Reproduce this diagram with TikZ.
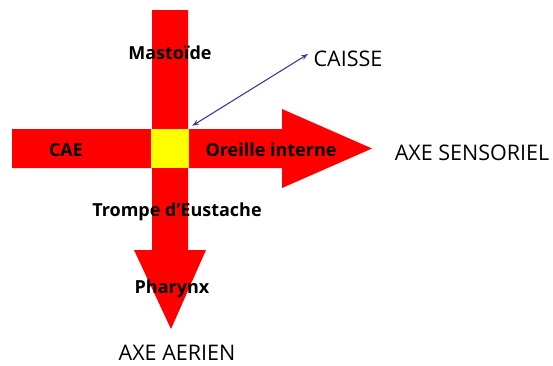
\documentclass[tikz,border=0pt]{standalone}
\usepackage{fontspec}
\setmainfont{Open Sans}
\usetikzlibrary{arrows.meta}
\definecolor{axered}{RGB}{255,0,0}
\definecolor{caisseyel}{RGB}{255,255,0}
\definecolor{fleche}{RGB}{60,60,160}
\tikzset{
  partie/.style={font=\fontsize{18}{20}\selectfont\bfseries, text=black},
  axe/.style={font=\fontsize{21.5}{24}\selectfont, text=black},
}
\begin{document}
\begin{tikzpicture}[x=1pt, y=-1pt, >={Stealth[length=7pt,width=5pt]}]
    \useasboundingbox (0,0) rectangle (553,365);
    % axe sensoriel (horizontal)
    \fill[axered] (12,129) -- (282,129) -- (282,109) -- (372,148.5) -- (282,188) -- (282,168) -- (12,168) -- cycle;
    % axe aerien (vertical)
    \fill[axered] (152,10) -- (188,10) -- (188,250) -- (206,250) -- (171,329) -- (134,250) -- (152,250) -- cycle;
    % caisse
    \node[fill=caisseyel, minimum width=38pt, minimum height=39pt, inner sep=0pt] (carre) at (170,148.5) {};
    \node[partie] (mastoide) at (170,53) {Mastoïde};
    \node[partie] (cae) at (66,150) {CAE};
    \node[partie] (oreille) at (271,150) {Oreille interne};
    \node[partie] (trompe) at (177,212) {Trompe d'Eustache};
    \node[partie] (pharynx) at (172,289) {Pharynx};
    \node[axe] (caisse) at (348,59) {CAISSE};
    \node[axe] (sensoriel) at (472,153) {AXE SENSORIEL};
    \node[axe, inner sep=0pt] (aerien) at (177,353) {AXE AERIEN};
    \draw[<->, fleche, line width=1.1pt] ([shift={(3pt,3pt)}]carre.north east) -- ([shift={(-2pt,5pt)}]caisse.west);
\end{tikzpicture}
\end{document}
